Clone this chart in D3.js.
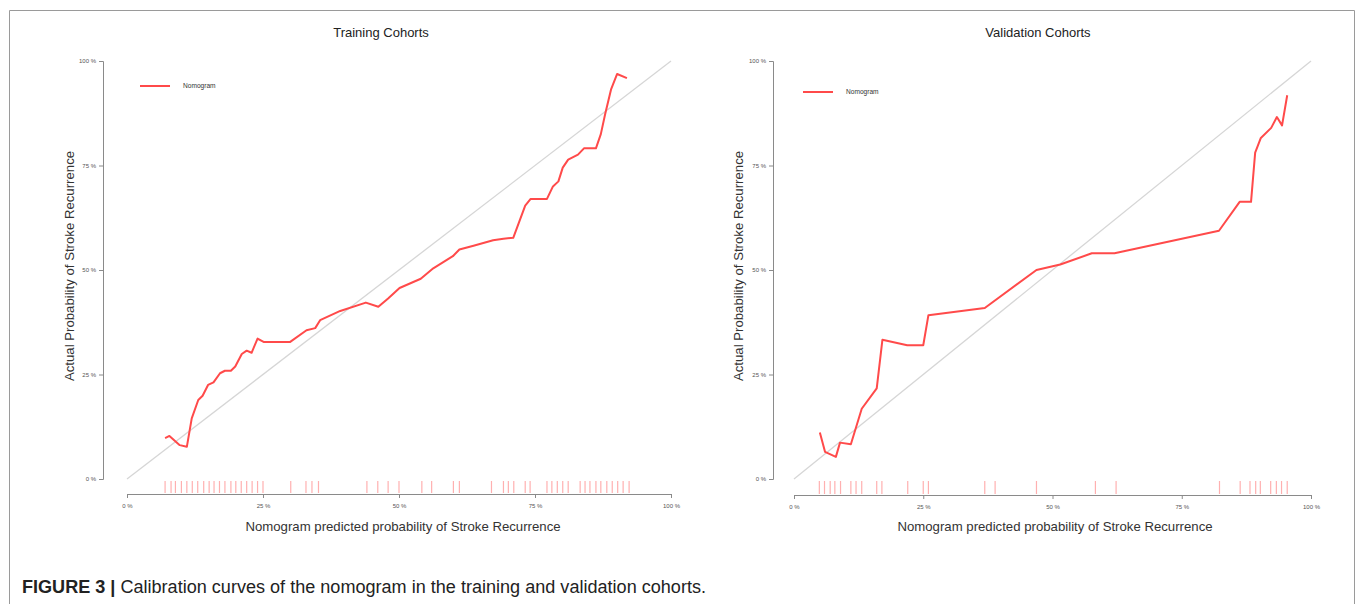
<html>
<head>
<meta charset="utf-8">
<title>Calibration curves</title>
<script src="https://d3js.org/d3.v7.min.js"></script>
<style>
  body { margin:0; background:#fff; }
  .tick text { font: 6px "Liberation Sans", Arial, sans-serif; fill:#555; }
  .tick line, .domain { stroke:#8a8a8a; }
  .axis-title { font: 13.2px "Liberation Sans", Arial, sans-serif; fill:#333; }
  .panel-title { font: 13px "Liberation Sans", Arial, sans-serif; fill:#222; }
  .legend-text { font: 6.6px "Liberation Sans", Arial, sans-serif; fill:#333; }
  .caption { font: 17.5px "Liberation Sans", Arial, sans-serif; fill:#222; }
</style>
</head>
<body>
<svg id="chart" width="1363" height="604"></svg>
<script>
// percent values
var trainX = [7.0, 7.8, 9.7, 11.0, 11.9, 13.1, 13.9, 14.9, 15.9, 17.1, 18.0, 19.1, 19.9, 21.1, 22.0, 22.9, 24.0, 25.1, 30.0, 33.0, 34.6, 35.5, 39.2, 43.9, 46.2, 48.0, 50.1, 54.0, 56.3, 59.9, 61.1, 63.7, 67.3, 69.2, 71.0, 73.2, 74.2, 77.2, 78.3, 79.3, 80.1, 81.1, 82.9, 84.0, 86.2, 87.1, 87.9, 89.0, 90.1, 91.9];
var trainY = [9.8, 10.3, 8.1, 7.7, 14.5, 18.9, 19.9, 22.5, 23.1, 25.3, 25.9, 25.9, 26.9, 29.9, 30.7, 30.2, 33.6, 32.8, 32.8, 35.6, 36.1, 38.0, 40.2, 42.2, 41.2, 43.2, 45.7, 47.9, 50.4, 53.3, 54.9, 55.8, 57.1, 57.5, 57.7, 65.4, 67.0, 67.0, 70.0, 71.2, 74.5, 76.4, 77.6, 79.1, 79.1, 82.5, 87.3, 93.3, 96.9, 95.9];
var trainRug = [7, 8.1, 8.9, 10, 11, 12, 13, 14.1, 15.1, 16, 17, 18, 19.1, 20, 21, 22, 23, 24, 25, 30.1, 32.9, 34, 35.2, 44.1, 46.1, 48, 50, 54.2, 56, 60, 61.1, 67, 69.2, 70.1, 71.1, 73.2, 74.1, 77.2, 78.1, 79.1, 80.1, 81.1, 83.3, 84.2, 85.1, 86.2, 87.1, 88.2, 89.2, 90.2, 91.2, 92.3];

var validX = [5.0, 6.0, 8.1, 8.9, 11.0, 13.1, 16.0, 17.1, 21.9, 25.0, 26.0, 36.9, 46.9, 51.5, 57.6, 62.0, 82.2, 86.2, 88.4, 89.2, 90.3, 92.3, 93.4, 94.4, 95.4];
var validY = [11.1, 6.5, 5.3, 8.7, 8.3, 16.8, 21.7, 33.3, 32.0, 32.0, 39.2, 40.9, 50.0, 51.3, 54.0, 54.0, 59.4, 66.3, 66.3, 78.1, 81.6, 84.0, 86.6, 84.6, 91.8];
var validRug = [4.9, 5.9, 7.0, 7.9, 9.0, 11.0, 12.0, 13.1, 16.0, 17.0, 22.0, 25.0, 26.0, 36.9, 38.9, 46.9, 58.3, 62.3, 82.3, 86.3, 88.2, 89.3, 90.2, 92.2, 93.3, 94.3, 95.4];

var tickValues = [0, 25, 50, 75, 100];
var titles = ["Training Cohorts", "Validation Cohorts"];
var xTitle = "Nomogram predicted probability of Stroke Recurrence";
var yTitle = "Actual Probability of Stroke Recurrence";
var legendLabel = "Nomogram";

var svg = d3.select("#chart");

// figure frame
svg.append("path")
    .attr("d", "M9.5,604 L9.5,10.5 L1354.5,10.5 L1354.5,604")
    .attr("fill", "none")
    .attr("stroke", "#9a9a9a")
    .attr("stroke-width", 1);

var panels = [
    { title: titles[0], xs: trainX, ys: trainY, rug: trainRug,
      x0: 127, x1: 671, yAxisX: 103, xAxisY: 494, titleX: 381, xTitleX: 403, yTitleX: 74,
      legX: 140, legY: 86 },
    { title: titles[1], xs: validX, ys: validY, rug: validRug,
      x0: 794, x1: 1311, yAxisX: 773, xAxisY: 495, titleX: 1038, xTitleX: 1055, yTitleX: 743,
      legX: 803, legY: 92 }
];

panels.forEach(function(p) {
    var x = d3.scaleLinear().domain([0, 100]).range([p.x0, p.x1]);
    var y = d3.scaleLinear().domain([0, 100]).range([479, 61]);
    var g = svg.append("g");

    // axes
    g.append("g")
        .attr("transform", "translate(0," + p.xAxisY + ")")
        .call(d3.axisBottom(x).tickValues(tickValues).tickSize(4).tickPadding(6)
            .tickFormat(function(d) { return d + " %"; }));
    g.append("g")
        .attr("transform", "translate(" + p.yAxisX + ",0)")
        .call(d3.axisLeft(y).tickValues(tickValues).tickSize(4).tickPadding(3)
            .tickFormat(function(d) { return d + " %"; }));

    // ideal line
    g.append("line")
        .attr("x1", x(0)).attr("y1", y(0))
        .attr("x2", x(100)).attr("y2", y(100))
        .attr("stroke", "#d6d6d6")
        .attr("stroke-width", 1.3);

    // rug
    g.selectAll(".rug")
        .data(p.rug)
        .enter().append("line")
        .attr("class", "rug")
        .attr("x1", function(d) { return x(d); })
        .attr("x2", function(d) { return x(d); })
        .attr("y1", 481)
        .attr("y2", p.xAxisY - 1)
        .attr("stroke", "#ffb0b0")
        .attr("stroke-width", 1.2);

    // calibration curve
    var pts = p.xs.map(function(v, i) { return [v, p.ys[i]]; });
    g.append("path")
        .datum(pts)
        .attr("fill", "none")
        .attr("stroke", "#ff4a4a")
        .attr("stroke-width", 2)
        .attr("stroke-linejoin", "round")
        .attr("d", d3.line().x(function(d) { return x(d[0]); }).y(function(d) { return y(d[1]); }));

    // legend
    g.append("line")
        .attr("x1", p.legX).attr("x2", p.legX + 30)
        .attr("y1", p.legY).attr("y2", p.legY)
        .attr("stroke", "#ff4a4a").attr("stroke-width", 2);
    g.append("text")
        .attr("class", "legend-text")
        .attr("x", p.legX + 43).attr("y", p.legY + 2)
        .text(legendLabel);

    // titles
    g.append("text")
        .attr("class", "panel-title")
        .attr("x", p.titleX).attr("y", 37)
        .attr("text-anchor", "middle")
        .text(p.title);
    g.append("text")
        .attr("class", "axis-title")
        .attr("x", p.xTitleX).attr("y", 531)
        .attr("text-anchor", "middle")
        .text(xTitle);
    g.append("text")
        .attr("class", "axis-title")
        .attr("transform", "translate(" + p.yTitleX + ",266) rotate(-90)")
        .attr("text-anchor", "middle")
        .text(yTitle);
});

// caption
var cap = svg.append("text").attr("class", "caption").attr("x", 22).attr("y", 593)
    .attr("textLength", 684).attr("lengthAdjust", "spacingAndGlyphs");
cap.append("tspan").attr("font-weight", "bold").text("FIGURE 3 |");
cap.append("tspan").text(" Calibration curves of the nomogram in the training and validation cohorts.");
</script>
</body>
</html>
